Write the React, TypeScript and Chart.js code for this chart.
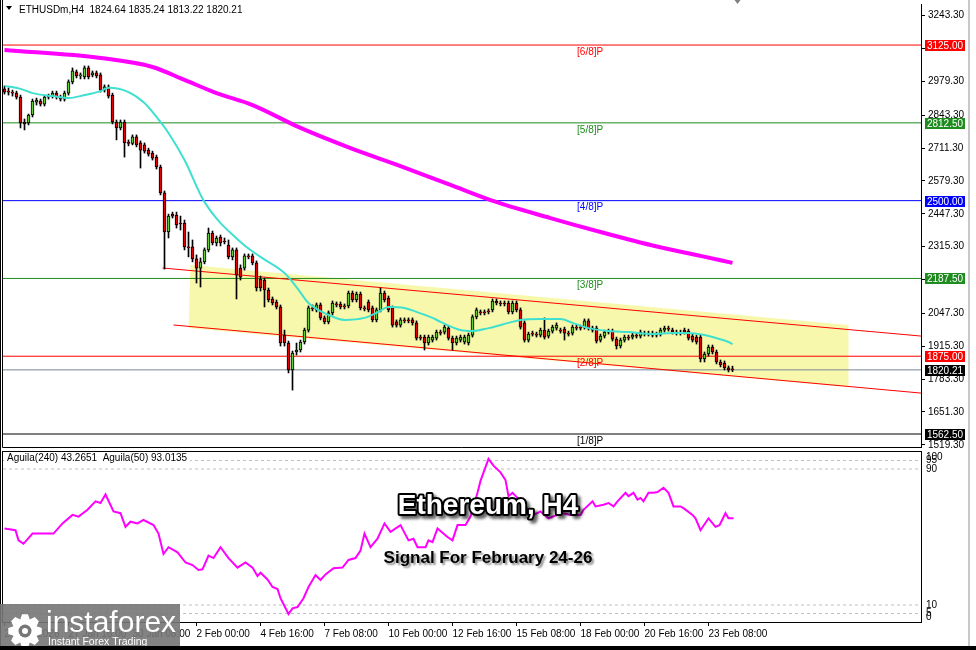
import React, { useEffect, useRef } from "react";
import { Chart, registerables } from "chart.js";

Chart.register(...registerables);

const FONT = "'Liberation Sans', Arial, sans-serif";

// ---------- data ----------
const symbolName = "ETHUSDm,H4";

const barOpen = [
  2949, 2940, 2936, 2932, 2916, 2816, 2812, 2844, 2896, 2900,
  2888, 2916, 2920, 2932, 2916, 2908, 2932, 2977, 3017, 3001,
  2997, 3033, 3005, 3013, 3005, 2944, 2957, 2924, 2816, 2792,
  2816, 2732, 2730, 2756, 2732, 2724, 2703, 2691, 2675, 2635,
  2531, 2374, 2446, 2442, 2410, 2410, 2314, 2314, 2266, 2229,
  2254, 2302, 2370, 2330, 2354, 2338, 2322, 2274, 2302, 2229,
  2229, 2278, 2278, 2250, 2185, 2181, 2141, 2105, 2093, 2073,
  1960, 1928, 1820, 1892, 1900, 1932, 1980, 2069, 2061, 2081,
  2029, 2013, 2049, 2085, 2085, 2077, 2077, 2129, 2101, 2125,
  2069, 2093, 2069, 2021, 2061, 2129, 2109, 2069, 2013, 2000,
  2021, 2021, 2021, 2009, 1952, 1952, 1928, 1940, 1948, 1972,
  1972, 1988, 1948, 1928, 1940, 1932, 1928, 1960, 2033, 2053,
  2053, 2057, 2061, 2097, 2089, 2089, 2089, 2053, 2089, 2061,
  2009, 1940, 1968, 1964, 1960, 1980, 1956, 1976, 1988, 1980,
  1984, 1968, 1968, 1992, 1992, 1992, 2017, 1988, 1988, 1940,
  1956, 1976, 1976, 1944, 1916, 1940, 1952, 1952, 1960, 1956,
  1968, 1968, 1968, 1964, 1964, 1980, 1988, 1980, 1972, 1972,
  1980, 1976, 1956, 1952, 1952, 1864, 1884, 1912, 1892, 1852,
  1848, 1828, 1824.64,
];
const barHigh = [
  2961, 2953, 2944, 2940, 2924, 2828, 2848, 2908, 2912, 2908,
  2924, 2928, 2940, 2940, 2924, 2940, 2985, 3033, 3025, 3013,
  3041, 3041, 3021, 3021, 3013, 2965, 2965, 2932, 2824, 2824,
  2824, 2744, 2764, 2764, 2740, 2732, 2711, 2699, 2683, 2643,
  2539, 2446, 2454, 2454, 2438, 2422, 2374, 2342, 2282, 2270,
  2310, 2390, 2378, 2358, 2362, 2350, 2342, 2310, 2310, 2242,
  2286, 2286, 2286, 2258, 2197, 2189, 2149, 2113, 2101, 2081,
  1980, 1936, 1896, 1928, 1940, 1988, 2077, 2081, 2089, 2089,
  2037, 2057, 2097, 2093, 2093, 2085, 2137, 2137, 2133, 2133,
  2077, 2101, 2077, 2069, 2149, 2137, 2117, 2077, 2021, 2029,
  2029, 2029, 2029, 2017, 1960, 1960, 1960, 1960, 1980, 1980,
  2000, 1996, 1956, 1956, 1960, 1960, 1968, 2041, 2069, 2061,
  2061, 2065, 2105, 2105, 2097, 2097, 2097, 2097, 2097, 2069,
  2017, 1972, 1976, 1972, 1988, 2029, 1984, 2000, 2009, 1988,
  1992, 1976, 2000, 2000, 2000, 2025, 2025, 1996, 1996, 1964,
  1980, 1984, 1984, 1952, 1948, 1960, 1960, 1968, 1968, 1980,
  1976, 1976, 1976, 1972, 1988, 1996, 1996, 1988, 1980, 1980,
  1988, 1984, 1964, 1960, 1960, 1892, 1920, 1920, 1900, 1860,
  1856, 1836, 1835.24,
];
const barLow = [
  2928, 2924, 2920, 2908, 2792, 2784, 2804, 2836, 2884, 2880,
  2880, 2908, 2912, 2908, 2900, 2900, 2924, 2969, 2993, 2989,
  2989, 2989, 2997, 2993, 2936, 2936, 2912, 2808, 2744, 2784,
  2675, 2720, 2724, 2716, 2631, 2691, 2679, 2663, 2627, 2523,
  2225, 2350, 2430, 2390, 2382, 2302, 2274, 2254, 2169, 2153,
  2246, 2294, 2322, 2318, 2318, 2326, 2266, 2262, 2105, 2181,
  2221, 2266, 2242, 2137, 2137, 2073, 2093, 2081, 2065, 1916,
  1916, 1808, 1739, 1880, 1892, 1924, 1972, 2057, 2053, 2021,
  2005, 2005, 2041, 2073, 2065, 2065, 2069, 2093, 2093, 2061,
  2057, 2053, 2013, 2013, 2053, 2093, 2053, 1992, 1992, 1992,
  2009, 2009, 2000, 1940, 1940, 1900, 1920, 1932, 1940, 1960,
  1964, 1940, 1900, 1920, 1932, 1924, 1920, 1952, 2025, 2041,
  2041, 2045, 2053, 2081, 2077, 2077, 2045, 2045, 2053, 1984,
  1932, 1932, 1956, 1952, 1952, 1944, 1948, 1968, 1980, 1968,
  1940, 1956, 1960, 1980, 1980, 1984, 1980, 1972, 1928, 1932,
  1948, 1964, 1936, 1904, 1908, 1932, 1940, 1944, 1948, 1948,
  1956, 1956, 1952, 1952, 1956, 1972, 1976, 1964, 1960, 1960,
  1964, 1940, 1932, 1924, 1852, 1852, 1876, 1884, 1844, 1832,
  1820, 1812, 1813.22,
];
const barClose = [
  2936, 2936, 2932, 2916, 2812, 2808, 2844, 2900, 2904, 2888,
  2916, 2920, 2932, 2916, 2908, 2932, 2977, 3021, 3001, 3005,
  3033, 2997, 3013, 3001, 2944, 2957, 2920, 2816, 2792, 2816,
  2732, 2730, 2756, 2724, 2703, 2699, 2687, 2671, 2635, 2531,
  2374, 2438, 2438, 2402, 2406, 2314, 2310, 2266, 2229, 2254,
  2302, 2370, 2330, 2350, 2330, 2334, 2274, 2302, 2201, 2193,
  2278, 2274, 2250, 2149, 2149, 2141, 2101, 2089, 2073, 1928,
  1928, 1820, 1888, 1900, 1932, 1980, 2069, 2065, 2081, 2029,
  2013, 2049, 2089, 2081, 2073, 2073, 2129, 2101, 2125, 2069,
  2065, 2061, 2021, 2061, 2129, 2101, 2061, 2000, 2000, 2021,
  2017, 2017, 2009, 1948, 1948, 1928, 1952, 1952, 1972, 1968,
  1992, 1948, 1928, 1948, 1952, 1952, 1960, 2033, 2061, 2049,
  2049, 2053, 2097, 2089, 2085, 2085, 2053, 2089, 2061, 1992,
  1940, 1964, 1964, 1960, 1980, 1952, 1976, 1992, 2000, 1976,
  1968, 1964, 1992, 1988, 1988, 2017, 1988, 1980, 1936, 1956,
  1972, 1972, 1944, 1916, 1940, 1952, 1948, 1960, 1956, 1972,
  1964, 1964, 1960, 1960, 1980, 1988, 1984, 1972, 1968, 1968,
  1972, 1948, 1940, 1932, 1864, 1884, 1912, 1892, 1852, 1840,
  1828, 1820, 1820.21,
];

// time axis (bar index of each label)
const xTickBars = [0, 16, 32, 48, 64, 80, 96, 112, 128, 144, 160, 176];
const xTickLabels = [
  "25 Jan 2026", "27 Jan 16:00", "30 Jan 08:00", "2 Feb 00:00", "4 Feb 16:00", "7 Feb 08:00",
  "10 Feb 00:00", "12 Feb 16:00", "15 Feb 08:00", "18 Feb 00:00", "20 Feb 16:00", "23 Feb 08:00",
];
const priceTicks = [
  3243.3, 3111.3, 2979.3, 2843.3, 2711.3, 2579.3, 2447.3, 2315.3, 2183.3, 2047.3, 1915.3, 1783.3,
  1651.3, 1519.3,
];

// Murrey levels
const levelPrices = [3125, 2812.5, 2500, 2187.5, 1875, 1562.5];
const levelNames = ["[6/8]P", "[5/8]P", "[4/8]P", "[3/8]P", "[2/8]P", "[1/8]P"];
const levelColors = ["#ff0000", "#1e8c1e", "#0000ff", "#1e8c1e", "#ff0000", "#000000"];
const lastPrice = 1820.21;

// moving averages (bar index, price)
const fastMaBars = [0, 4, 7, 12, 16, 20, 24, 26, 31, 35, 38, 41, 45, 50, 59, 64, 70, 73, 76, 81, 85, 90, 93, 96, 100, 103, 107, 109, 114, 117, 121, 126, 129, 134, 139, 142, 146, 151, 156, 162, 167, 171, 175, 177, 181, 182];
const fastMaValues = [2961, 2949, 2932, 2920, 2912, 2924, 2940, 2953, 2936, 2892, 2836, 2772, 2663, 2494, 2334, 2274, 2209, 2153, 2089, 2041, 2021, 2029, 2049, 2073, 2069, 2053, 2029, 2013, 1980, 1976, 1988, 2009, 2021, 2025, 2025, 2009, 1988, 1976, 1972, 1964, 1968, 1968, 1960, 1952, 1932, 1924];
const slowMaBars = [0, 24, 37, 45, 53, 62, 74, 86.5, 99, 111.5, 121.5, 136.5, 149, 161.5, 174, 182];
const slowMaValues = [3105, 3073, 3037, 2985, 2932, 2884, 2792, 2711, 2639, 2563, 2502, 2430, 2374, 2322, 2278, 2250];

// channel
const channelUpperBars = [39.5, 229.125];
const channelUpperPrices = [2229.4, 1956];
const channelLowerBars = [42.25, 229.125];
const channelLowerPrices = [2000.5, 1727];
const boxBars = [46.5, 211, 211, 46];
const boxPrices = [2241.5, 2000.5, 1751.4, 1988.4];

// oscillator
const oscBars = [0, 2.75, 3.5, 4.75, 7, 9.75, 12.25, 14.5, 17, 18.5, 20.75, 22.75, 24, 25.25, 27.25, 29, 30.25, 31.5, 33.25, 34.75, 37.25, 38.5, 39.75, 41, 43.25, 45.25, 47, 48.5, 49.5, 51, 52.25, 54, 56, 58.25, 60.25, 62, 63.25, 64, 65.75, 67, 68.25, 69, 71, 72, 73.25, 74.75, 76, 77.75, 79, 80.25, 82.25, 84.5, 86, 87.75, 89, 90, 91.5, 93.25, 95, 96.5, 99, 101, 102.25, 103.25, 105.25, 106, 107, 108.25, 110.75, 112, 113.25, 115.25, 116.5, 118.25, 119, 121, 122.25, 124, 125.25, 126, 127, 128.25, 130.25, 132.25, 134, 136, 138.25, 139.75, 141.5, 144, 144.75, 147, 147.75, 149.75, 151, 152.25, 153.25, 155.25, 156, 157.25, 158.25, 159, 159.75, 161, 162.25, 163.25, 164.75, 166, 167.25, 169, 169.75, 172, 172.75, 174, 176, 177.75, 178.75, 180.25, 181, 182.25];
const oscValues = [55, 54, 48, 46, 52, 52, 52, 58, 63, 62, 66, 71, 70, 75, 65, 64, 56, 59, 58, 60, 57, 52, 40, 44, 41, 35, 33.5, 30.6, 31, 39, 37.6, 44, 37.6, 32, 35, 32, 27, 29, 25, 20.6, 19.4, 14, 4.7, 8, 8.8, 14, 20.6, 27.6, 24.7, 28, 31.6, 32, 36.5, 37.6, 42, 52, 44, 49, 58, 53, 57, 48, 49, 44, 44, 48, 47, 55, 50, 48, 57, 57, 62, 76, 83, 96, 92, 88, 83.5, 74, 76, 73, 68, 63, 65, 61, 63, 64, 63, 63, 66, 71, 68, 69, 70, 68, 71, 76, 74, 76, 72, 73, 71, 76, 76, 76.5, 79, 76, 68, 68, 67, 63, 61, 54, 61, 56, 57, 64, 61, 61];
const oscLevels = [95, 90, 10, 5];
const oscTickLabels = [100, 95, 90, 10, 5, 0];
const oscCaption = ["Aguila(240) 43.2651", "Aguila(50) 93.0135"];

const headline = "Ethereum, H4";
const subline = "Signal For February 24-26";

// ---------- layout constants ----------
const X_MIN = -0.375;
const X_MAX = 229.125;
const Y_MIN = 1510.4;
const Y_MAX = 3289.9;
const LEVEL_LABEL_BAR = 146.4;
const SHIFT_MARK_BAR = 183;
const B_TOP = 440;

const GREEN = "#66cc33";
const RED = "#e00000";

function line(data: { x: number; y: number }[], color: string, width: number, order: number, extra: any = {}) {
  return {
    type: "line",
    data,
    borderColor: color,
    borderWidth: width,
    pointRadius: 0,
    fill: false,
    order,
    ...extra,
  };
}

function drawGear(ctx: CanvasRenderingContext2D, cx: number, cy: number, ro: number, ri: number, teeth: number) {
  ctx.beginPath();
  const step = (Math.PI * 2) / teeth;
  for (let k = 0; k < teeth; k++) {
    const a = k * step;
    ctx.lineTo(cx + ri * Math.cos(a - step * 0.5), cy + ri * Math.sin(a - step * 0.5));
    ctx.lineTo(cx + ro * Math.cos(a - step * 0.22), cy + ro * Math.sin(a - step * 0.22));
    ctx.lineTo(cx + ro * Math.cos(a + step * 0.22), cy + ro * Math.sin(a + step * 0.22));
    ctx.lineTo(cx + ri * Math.cos(a + step * 0.5), cy + ri * Math.sin(a + step * 0.5));
  }
  ctx.closePath();
  ctx.fill();
}

const noPad = (s: any) => {
  s.paddingTop = 0;
  s.paddingBottom = 0;
  s.paddingLeft = 0;
  s.paddingRight = 0;
};

const mainDecor = {
  id: "mainDecor",
  beforeDatasetsDraw(chart: any) {
    const { ctx, chartArea, scales } = chart;
    const x = scales.x;
    const y = scales.y;
    ctx.save();
    ctx.beginPath();
    ctx.rect(chartArea.left, chartArea.top, chartArea.right - chartArea.left, chartArea.bottom - chartArea.top);
    ctx.clip();
    ctx.beginPath();
    boxBars.forEach((b, k) => {
      const px = x.getPixelForValue(b);
      const py = y.getPixelForValue(boxPrices[k]);
      if (k === 0) ctx.moveTo(px, py);
      else ctx.lineTo(px, py);
    });
    ctx.closePath();
    ctx.fillStyle = "#f8f8ac";
    ctx.fill();
    ctx.restore();
  },
  afterDatasetsDraw(chart: any) {
    const { ctx, scales } = chart;
    ctx.save();
    ctx.font = `10px ${FONT}`;
    ctx.textAlign = "center";
    ctx.textBaseline = "top";
    levelPrices.forEach((p, k) => {
      ctx.fillStyle = levelColors[k];
      ctx.fillText(levelNames[k], scales.x.getPixelForValue(LEVEL_LABEL_BAR), scales.y.getPixelForValue(p) + 2);
    });
    ctx.restore();
  },
  afterDraw(chart: any) {
    const { ctx, chartArea, scales } = chart;
    const y = scales.y;
    ctx.save();
    ctx.strokeStyle = "#000";
    ctx.lineWidth = 1;
    ctx.beginPath();
    ctx.moveTo(2.5, 0);
    ctx.lineTo(2.5, chartArea.bottom + 0.5);
    ctx.lineTo(chartArea.right, chartArea.bottom + 0.5);
    ctx.stroke();
    ctx.beginPath();
    ctx.moveTo(0.5, 0);
    ctx.lineTo(0.5, 460);
    ctx.stroke();

    // chart-shift marker
    const sx = Math.round(scales.x.getPixelForValue(SHIFT_MARK_BAR)) + 0.5;
    ctx.fillStyle = "#808080";
    ctx.beginPath();
    ctx.moveTo(sx - 3, 0);
    ctx.lineTo(sx + 3, 0);
    ctx.lineTo(sx, 4);
    ctx.closePath();
    ctx.fill();

    // axis value boxes
    const boxes = levelPrices.map((p, k) => ({ p, c: levelColors[k] }));
    boxes.push({ p: lastPrice, c: "#000000" });
    ctx.font = `10px ${FONT}`;
    ctx.textAlign = "center";
    ctx.textBaseline = "middle";
    boxes.forEach((b) => {
      const py = Math.round(y.getPixelForValue(b.p));
      ctx.fillStyle = b.c;
      ctx.fillRect(925, py - 5, 40, 11);
      ctx.fillStyle = "#fff";
      ctx.fillText(b.p.toFixed(2), 945, py + 1);
    });

    // title
    const n = barClose.length - 1;
    ctx.fillStyle = "#000";
    ctx.beginPath();
    ctx.moveTo(6, 6);
    ctx.lineTo(12, 6);
    ctx.lineTo(9, 10);
    ctx.closePath();
    ctx.fill();
    ctx.textAlign = "left";
    ctx.textBaseline = "alphabetic";
    ctx.fillText(
      `${symbolName}  ${barOpen[n].toFixed(2)} ${barHigh[n].toFixed(2)} ${barLow[n].toFixed(2)} ${barClose[n].toFixed(2)}`,
      19,
      13
    );
    ctx.restore();
  },
};

const oscDecor = {
  id: "oscDecor",
  afterDraw(chart: any) {
    const { ctx, chartArea, scales } = chart;
    const { top, bottom, right } = chartArea;
    const y = scales.y;
    ctx.save();
    ctx.strokeStyle = "#000";
    ctx.lineWidth = 1;
    ctx.strokeRect(2.5, top - 0.5, right - 2, bottom - top + 1);
    ctx.beginPath();
    ctx.moveTo(0.5, 0);
    ctx.lineTo(0.5, 210);
    ctx.stroke();

    ctx.font = `10px ${FONT}`;
    ctx.fillStyle = "#000";
    ctx.textAlign = "left";
    ctx.textBaseline = "middle";
    oscTickLabels.forEach((v) => {
      let py = y.getPixelForValue(v);
      py = Math.min(Math.max(py, top + 5), bottom - 5);
      ctx.fillText(String(v), right + 5, py);
    });

    // caption
    const cap = oscCaption.join("  ");
    ctx.textBaseline = "alphabetic";
    const w = ctx.measureText(cap).width;
    ctx.fillStyle = "#fff";
    ctx.fillRect(4, top + 1, w + 6, 11);
    ctx.fillStyle = "#000";
    ctx.fillText(cap, 7, top + 9);

    // headline
    ctx.textAlign = "center";
    ctx.font = `bold 28px ${FONT}`;
    ctx.lineJoin = "round";
    ctx.shadowColor = "rgba(0,0,0,0.6)";
    ctx.shadowOffsetX = 3;
    ctx.shadowOffsetY = 3;
    ctx.shadowBlur = 3;
    ctx.lineWidth = 4;
    ctx.strokeStyle = "#000";
    ctx.strokeText(headline, 488, 514 - B_TOP);
    ctx.shadowColor = "transparent";
    ctx.fillStyle = "#fff";
    ctx.fillText(headline, 488, 514 - B_TOP);

    ctx.font = `bold 17px ${FONT}`;
    ctx.shadowColor = "rgba(0,0,0,0.45)";
    ctx.shadowOffsetX = 2;
    ctx.shadowOffsetY = 2;
    ctx.shadowBlur = 2;
    ctx.fillStyle = "#000";
    ctx.fillText(subline, 488, 563 - B_TOP);
    ctx.shadowColor = "transparent";

    // logo
    const ly = 604 - B_TOP;
    ctx.fillStyle = "rgba(118,118,118,0.9)";
    ctx.fillRect(0, ly, 180, 46);
    ctx.fillStyle = "#fff";
    drawGear(ctx, 25, ly + 27, 17, 12.5, 8);
    ctx.fillStyle = "rgba(118,118,118,1)";
    ctx.beginPath();
    ctx.arc(25, ly + 27, 6.5, 0, Math.PI * 2);
    ctx.fill();
    ctx.fillStyle = "#fff";
    ctx.beginPath();
    ctx.arc(25, ly + 27, 3, 0, Math.PI * 2);
    ctx.fill();
    ctx.textAlign = "left";
    ctx.font = `30px ${FONT}`;
    ctx.fillText("instaforex", 46, ly + 28);
    ctx.font = `10.5px ${FONT}`;
    ctx.fillText("Instant Forex Trading", 48, ly + 41);
    ctx.restore();
  },
};

export default function App() {
  const refA = useRef<HTMLCanvasElement>(null);
  const refB = useRef<HTMLCanvasElement>(null);

  useEffect(() => {
    document.body.style.margin = "0";
    const candleColors = barClose.map((c, i) => (c >= barOpen[i] ? GREEN : RED));
    const levelSets = levelPrices.map((p, k) =>
      line([{ x: X_MIN, y: p }, { x: X_MAX, y: p }], levelColors[k], 1, 6)
    );

    const chartA = new Chart(refA.current as HTMLCanvasElement, {
      type: "bar",
      data: {
        datasets: [
          ...levelSets,
          line([{ x: X_MIN, y: lastPrice }, { x: X_MAX, y: lastPrice }], "#778899", 1, 6),
          line(channelUpperBars.map((b, k) => ({ x: b, y: channelUpperPrices[k] })), "#ff0000", 1, 5),
          line(channelLowerBars.map((b, k) => ({ x: b, y: channelLowerPrices[k] })), "#ff0000", 1, 5),
          {
            type: "bar",
            data: barLow.map((l, i) => ({ x: i, y: [l, barHigh[i]] })),
            backgroundColor: "#000",
            barThickness: 1,
            grouped: false,
            order: 2,
          },
          {
            type: "bar",
            data: barOpen.map((o, i) => ({ x: i, y: [o, barClose[i]] })),
            backgroundColor: candleColors,
            borderColor: "#000",
            borderWidth: 1,
            borderSkipped: false,
            barThickness: 3,
            minBarLength: 1,
            grouped: false,
            order: 1,
          },
          line(fastMaBars.map((b, k) => ({ x: b, y: fastMaValues[k] })), "#40e0d0", 2, 0, {
            cubicInterpolationMode: "monotone",
          }),
          line(slowMaBars.map((b, k) => ({ x: b, y: slowMaValues[k] })), "#ff00ff", 4, 0, {
            cubicInterpolationMode: "monotone",
          }),
        ] as any,
      },
      options: {
        responsive: false,
        maintainAspectRatio: false,
        animation: false,
        devicePixelRatio: 1,
        events: [],
        layout: { padding: { left: 3, right: 0, top: 4, bottom: 13 } },
        plugins: { legend: { display: false }, tooltip: { enabled: false } },
        scales: {
          x: { type: "linear", min: X_MIN, max: X_MAX, display: false, offset: false },
          y: {
            type: "linear",
            position: "right",
            min: Y_MIN,
            max: Y_MAX,
            afterBuildTicks: (s: any) => {
              s.ticks = priceTicks.map((v) => ({ value: v }));
            },
            afterFit: (s: any) => {
              s.width = 55;
              noPad(s);
            },
            ticks: {
              autoSkip: false,
              padding: 3,
              color: "#000",
              font: { family: FONT, size: 10 },
              callback: (v: any) => Number(v).toFixed(2),
            },
            grid: { display: true, drawOnChartArea: false, drawTicks: true, tickLength: 4, color: "#000" },
            border: { display: true, color: "#000" },
          },
        },
      } as any,
      plugins: [mainDecor],
    });

    const chartB = new Chart(refB.current as HTMLCanvasElement, {
      type: "line",
      data: {
        datasets: [
          ...oscLevels.map((v) =>
            line([{ x: X_MIN, y: v }, { x: X_MAX, y: v }], "#c0c0c0", 1, 2, { borderDash: [3, 3] })
          ),
          line(oscBars.map((b, k) => ({ x: b, y: oscValues[k] })), "#ff00ff", 2, 0),
        ] as any,
      },
      options: {
        responsive: false,
        maintainAspectRatio: false,
        animation: false,
        devicePixelRatio: 1,
        events: [],
        layout: { padding: { left: 3, right: 0, top: 12, bottom: 0 } },
        plugins: { legend: { display: false }, tooltip: { enabled: false } },
        scales: {
          x: {
            type: "linear",
            min: X_MIN,
            max: X_MAX,
            offset: false,
            afterBuildTicks: (s: any) => {
              s.ticks = xTickBars.map((v) => ({ value: v }));
            },
            afterFit: (s: any) => {
              s.height = 28;
              noPad(s);
            },
            ticks: {
              autoSkip: false,
              maxRotation: 0,
              minRotation: 0,
              align: "start",
              padding: 2,
              color: "#000",
              font: { family: FONT, size: 10 },
              callback: (v: any) => {
                const k = xTickBars.indexOf(Number(v));
                return k >= 0 ? xTickLabels[k] : "";
              },
            },
            grid: { display: true, drawOnChartArea: false, drawTicks: true, tickLength: 4, color: "#000" },
            border: { display: false },
          },
          y: {
            type: "linear",
            position: "right",
            min: 0,
            max: 100,
            afterFit: (s: any) => {
              s.width = 55;
              noPad(s);
            },
            ticks: { display: false },
            grid: { display: false },
            border: { display: false },
          },
        },
      } as any,
      plugins: [oscDecor],
    });

    return () => {
      chartA.destroy();
      chartB.destroy();
    };
  }, []);

  return (
    <div style={{ position: "relative", width: 976, height: 650, background: "#fff", overflow: "hidden" }}>
      <canvas ref={refA} width={976} height={460} style={{ position: "absolute", left: 0, top: 0 }} />
      <canvas ref={refB} width={976} height={210} style={{ position: "absolute", left: 0, top: B_TOP }} />
      <div style={{ position: "absolute", left: 968, top: 0, width: 2, height: 650, background: "#c8c8c8" }} />
      <div style={{ position: "absolute", left: 0, top: 646, width: 976, height: 4, background: "#000" }} />
    </div>
  );
}
